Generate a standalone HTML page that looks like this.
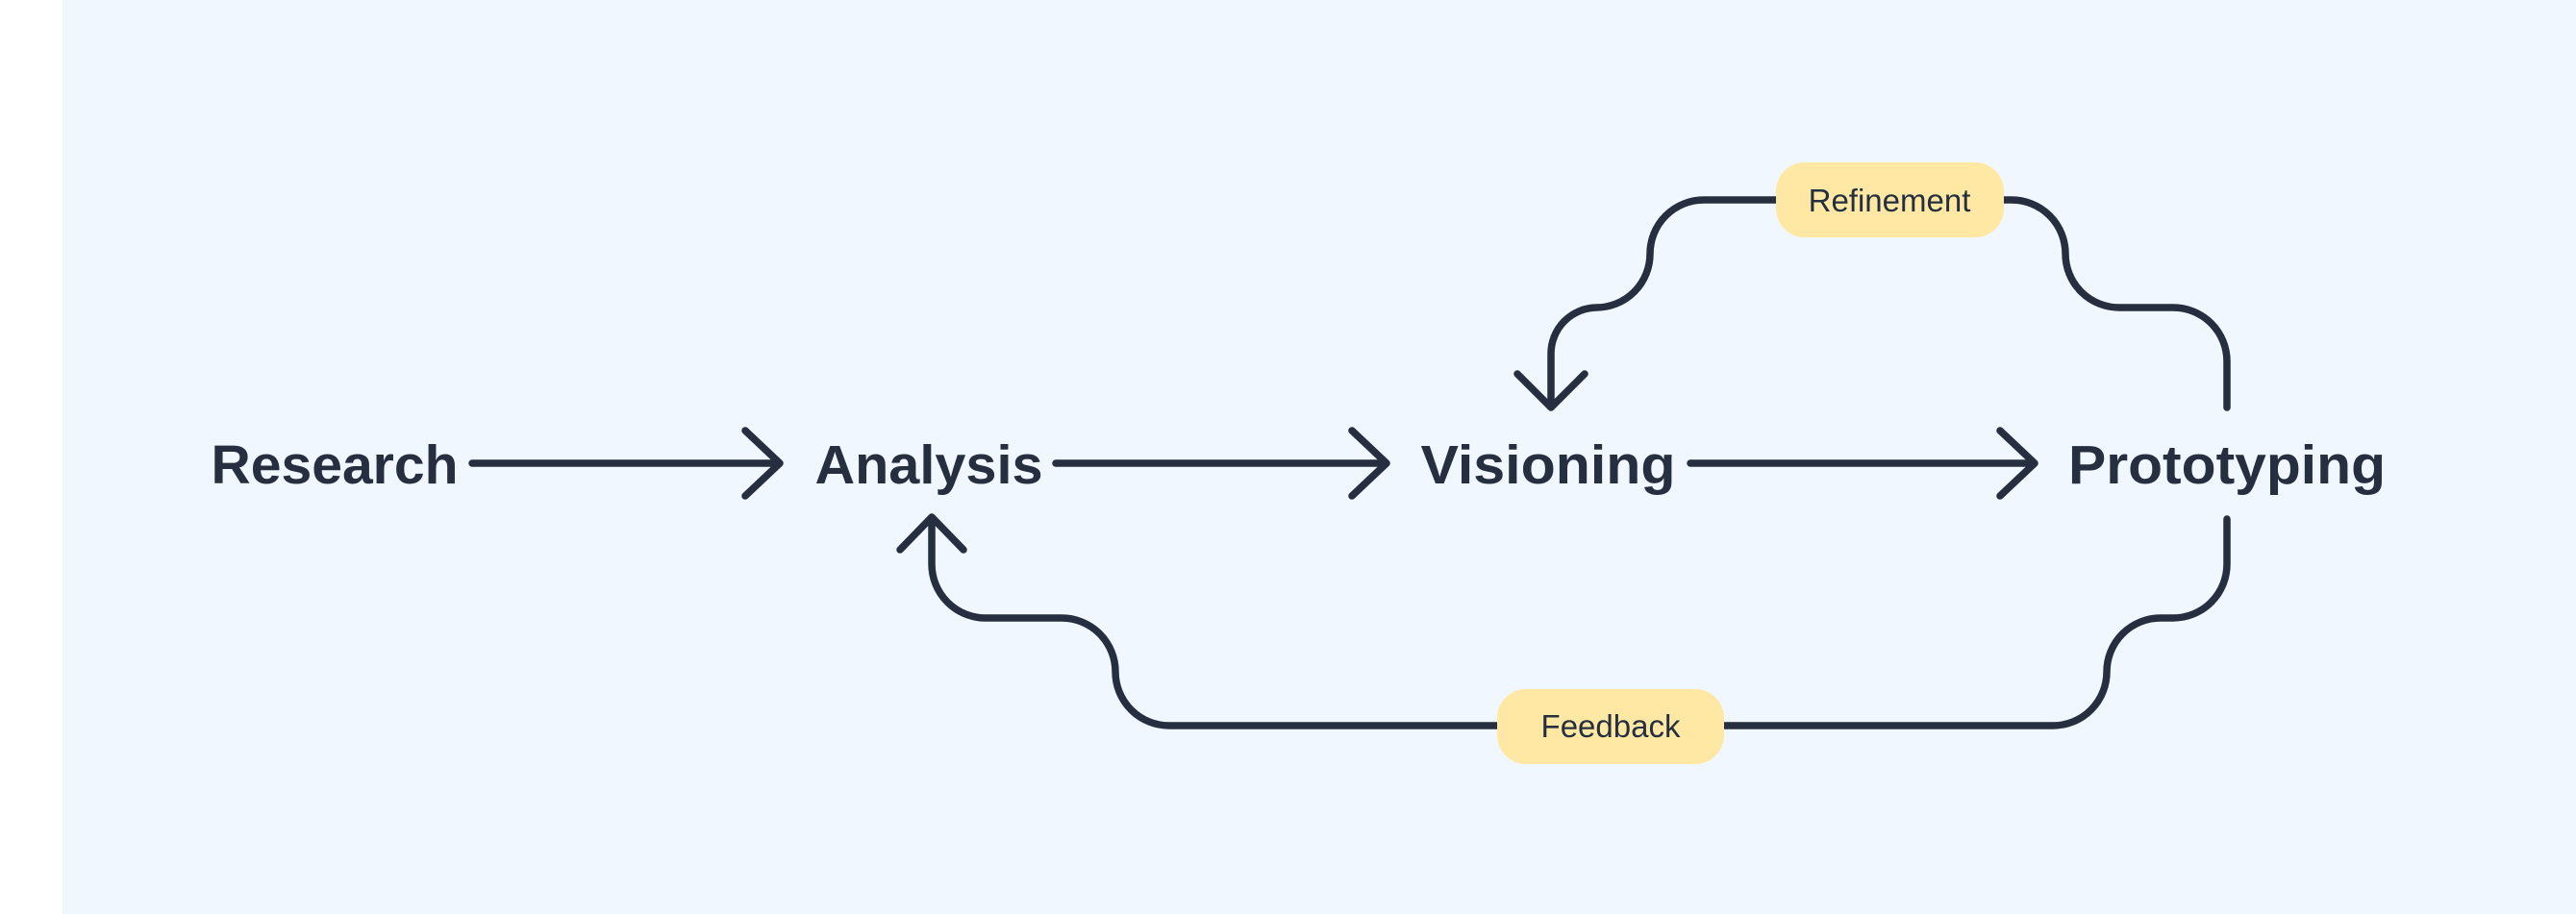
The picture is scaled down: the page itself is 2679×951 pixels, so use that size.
<!DOCTYPE html>
<html><head><meta charset="utf-8"><style>
html,body{margin:0;padding:0;background:#fff;}
svg{display:block;}
</style></head><body>
<svg width="2679" height="951" viewBox="0 0 2679 951" xmlns="http://www.w3.org/2000/svg">
<rect x="65" y="0" width="2614" height="951" fill="#f0f7fe"/>
<g fill="none" stroke="#262f3f" stroke-width="7.5" stroke-linecap="round" stroke-linejoin="round">
<path d="M491 482 H811 M775 448 L811 482 L775 516"/>
<path d="M1098 482 H1442 M1406 448 L1442 482 L1406 516"/>
<path d="M1758 482 H2116 M2080 448 L2116 482 L2080 516"/>
<path d="M2316 424 V376 A56 56 0 0 0 2260 320 H2204 A56 56 0 0 1 2148 264 A56 56 0 0 0 2092 208 H1772 A56 56 0 0 0 1716 264 A56 56 0 0 1 1660 320 A48 48 0 0 0 1613 368 V424 M1578 389 L1613 424 L1648 389"/>
<path d="M2316 540 V587 A56 56 0 0 1 2260 643 H2247 A56 56 0 0 0 2191 699 A56 56 0 0 1 2135 755 H1216 A56 56 0 0 1 1160 699 A56 56 0 0 0 1104 643 H1025 A56 56 0 0 1 969 587 V538 M936 572 L969 538 L1002 572"/>
</g>
<rect x="1847" y="169" width="237" height="78" rx="30" fill="#fee8a3"/>
<rect x="1557" y="717" width="236" height="78" rx="30" fill="#fee8a3"/>
<g font-family="Liberation Sans, sans-serif" fill="#262f3f" text-anchor="middle">
<text x="1965" y="220" font-size="33">Refinement</text>
<text x="1675" y="767" font-size="33">Feedback</text>
<g font-size="57" font-weight="bold">
<text x="348" y="503" textLength="257" lengthAdjust="spacingAndGlyphs">Research</text>
<text x="966" y="503" textLength="237" lengthAdjust="spacingAndGlyphs">Analysis</text>
<text x="1610" y="503" textLength="265" lengthAdjust="spacingAndGlyphs">Visioning</text>
<text x="2316" y="503" textLength="330" lengthAdjust="spacingAndGlyphs">Prototyping</text>
</g>
</g>
</svg>
</body></html>
